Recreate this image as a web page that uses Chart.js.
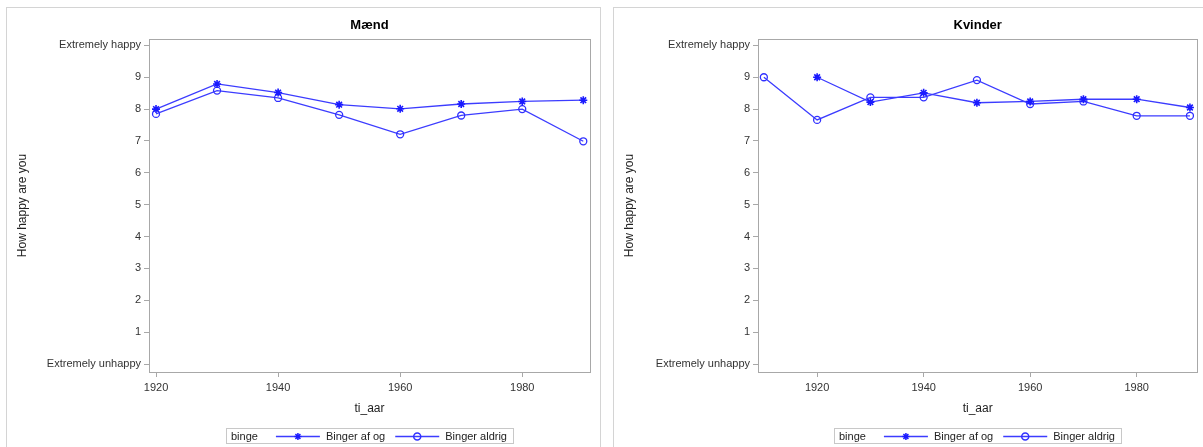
<!DOCTYPE html>
<html>
<head>
<meta charset="utf-8">
<script src="https://cdn.jsdelivr.net/npm/chart.js@4.4.1/dist/chart.umd.min.js"></script>
<style>
  body { margin: 0; background: #fff; width: 1203px; height: 447px; overflow: hidden; position: relative; }
  .panel { position: absolute; top: 7px; height: 460px; border: 1px solid #d4d4d4; border-bottom: none; }
  #p1 { left: 6px; width: 593px; }
  #p2 { left: 613px; width: 600px; }
  canvas { position: absolute; }
</style>
</head>
<body>
<div class="panel" id="p1"></div>
<div class="panel" id="p2"></div>
<canvas id="maend" width="592" height="439" style="left:7px;top:8px"></canvas>
<canvas id="kvinder" width="589" height="439" style="left:614px;top:8px"></canvas>
<script>
// data
const aarMaend = [1920, 1930, 1940, 1950, 1960, 1970, 1980, 1990];
const maendAfOg = [8.0, 8.79, 8.52, 8.14, 8.01, 8.16, 8.24, 8.28];
const maendAldrig = [7.85, 8.58, 8.35, 7.82, 7.21, 7.80, 8.0, 6.99];

const aarKvinder = [1910, 1920, 1930, 1940, 1950, 1960, 1970, 1980, 1990];
const kvinderAfOg = [null, 9.0, 8.22, 8.51, 8.2, 8.24, 8.31, 8.31, 8.05];
const kvinderAldrig = [9.0, 7.66, 8.37, 8.37, 8.91, 8.16, 8.24, 7.79, 7.79];

const yTicks = [0, 1, 2, 3, 4, 5, 6, 7, 8, 9, 10];
const xTicks = [1920, 1940, 1960, 1980];
const serieNavne = ['Binger af og', 'Binger aldrig'];

const FONT = "'Liberation Sans', Arial, sans-serif";
const BLAA = '#3c3cff';

function punkter(aar, vaerdier) {
    return aar.map((a, i) => ({ x: a, y: vaerdier[i] }));
}

// plot frame round the chart area
const rammePlugin = {
    id: 'ramme',
    afterDraw(chart) {
        const ctx = chart.ctx;
        const a = chart.chartArea;
        ctx.save();
        ctx.strokeStyle = '#a8a8a8';
        ctx.lineWidth = 1;
        ctx.strokeRect(Math.round(a.left) + 0.5, Math.round(a.top) + 0.5,
            Math.round(a.right - a.left), Math.round(a.bottom - a.top));
        ctx.restore();
    }
};

// legend box "binge  --*-- Binger af og  --o-- Binger aldrig"
const forklaringPlugin = {
    id: 'forklaring',
    afterDraw(chart, args, opts) {
        const ctx = chart.ctx;
        const a = chart.chartArea;
        ctx.save();
        ctx.font = '11px ' + FONT;
        const wTitel = ctx.measureText('binge').width;
        const w1 = ctx.measureText(serieNavne[0]).width;
        const w2 = ctx.measureText(serieNavne[1]).width;
        const linje = 44;
        const bredde = 5 + wTitel + 18 + linje + 6 + w1 + 10 + linje + 6 + w2 + 6;
        const x0 = Math.round((a.left + a.right) / 2 - bredde / 2);
        const y0 = opts.top;
        const h = 15;
        ctx.strokeStyle = '#c8c8c8';
        ctx.lineWidth = 1;
        ctx.strokeRect(x0 + 0.5, y0 + 0.5, Math.round(bredde), h);
        ctx.fillStyle = '#222';
        ctx.textBaseline = 'middle';
        const ym = y0 + h / 2 + 1;
        let x = x0 + 5;
        ctx.fillText('binge', x, ym);
        x += wTitel + 18;
        const ds = chart.data.datasets;
        [w1, w2].forEach((w, i) => {
            ctx.strokeStyle = BLAA;
            ctx.lineWidth = 1.3;
            ctx.beginPath();
            ctx.moveTo(x, ym);
            ctx.lineTo(x + linje, ym);
            ctx.stroke();
            ctx.strokeStyle = ds[i].pointBorderColor;
            ctx.fillStyle = 'rgba(0,0,0,0)';
            ctx.lineWidth = 1.5;
            Chart.helpers.drawPoint(ctx, { pointStyle: ds[i].pointStyle, radius: 3.5, borderWidth: 1.5, rotation: 0 }, x + linje / 2, ym);
            ctx.fillStyle = '#222';
            ctx.fillText(serieNavne[i], x + linje + 6, ym);
            x += linje + 6 + w + 10;
        });
        ctx.restore();
    }
};

function lavGraf(id, titel, aar, afOg, aldrig, xMin, xMax, plotVenstre, hojrePad) {
    const ctx = document.getElementById(id).getContext('2d');
    return new Chart(ctx, {
        type: 'line',
        data: {
            datasets: [{
                label: serieNavne[0],
                data: punkter(aar, afOg),
                borderColor: BLAA,
                borderWidth: 1.3,
                pointStyle: 'star',
                pointRadius: 4,
                pointBorderWidth: 1.6,
                pointBorderColor: '#1a1aff',
                pointBackgroundColor: '#1a1aff',
                spanGaps: false,
                tension: 0
            }, {
                label: serieNavne[1],
                data: punkter(aar, aldrig),
                borderColor: BLAA,
                borderWidth: 1.3,
                pointStyle: 'circle',
                pointRadius: 3.5,
                pointBorderWidth: 1.3,
                pointBorderColor: '#3030ff',
                pointBackgroundColor: 'rgba(0,0,0,0)',
                tension: 0
            }]
        },
        options: {
            responsive: false,
            animation: false,
            events: [],
            layout: { padding: { left: 0, right: hojrePad, top: 0, bottom: 0 } },
            plugins: {
                legend: { display: false },
                tooltip: { enabled: false },
                title: {
                    display: true,
                    text: titel,
                    fullSize: false,
                    color: '#000',
                    font: { family: FONT, size: 13, weight: 'bold', lineHeight: 1.2 },
                    padding: { top: 10, bottom: 5.4 }
                },
                forklaring: { top: 420 }
            },
            scales: {
                x: {
                    type: 'linear',
                    min: xMin,
                    max: xMax,
                    afterBuildTicks: s => { s.ticks = xTicks.map(v => ({ value: v })); },
                    afterFit: s => { s.height = 75; },
                    border: { display: false },
                    grid: { drawOnChartArea: false, drawTicks: true, tickLength: 5, color: '#a8a8a8' },
                    ticks: {
                        color: '#333',
                        font: { family: FONT, size: 11 },
                        padding: 4,
                        maxRotation: 0,
                        callback: v => String(v)
                    },
                    title: {
                        display: true,
                        text: 'ti_aar',
                        color: '#222',
                        font: { family: FONT, size: 12, lineHeight: 1.2 },
                        padding: { top: 0, bottom: 30.8 }
                    }
                },
                y: {
                    min: -0.25,
                    max: 10.2,
                    afterBuildTicks: s => { s.ticks = yTicks.map(v => ({ value: v })); },
                    afterFit: s => { s.width = plotVenstre; },
                    border: { display: false },
                    grid: { drawOnChartArea: false, drawTicks: true, tickLength: 5, color: '#a8a8a8' },
                    ticks: {
                        color: '#333',
                        font: { family: FONT, size: 11 },
                        padding: 3,
                        callback: v => v === 10 ? 'Extremely happy' : (v === 0 ? 'Extremely unhappy' : String(v))
                    },
                    title: {
                        display: true,
                        text: 'How happy are you',
                        color: '#222',
                        font: { family: FONT, size: 12, lineHeight: 1.2 },
                        padding: { top: 8, bottom: 0 }
                    }
                }
            }
        },
        plugins: [rammePlugin, forklaringPlugin]
    });
}

lavGraf('maend', 'Mænd', aarMaend, maendAfOg, maendAldrig, 1918.85, 1991.1, 142, 9);
lavGraf('kvinder', 'Kvinder', aarKvinder, kvinderAfOg, kvinderAldrig, 1908.9, 1991.4, 144, 5);
</script>
</body>
</html>
